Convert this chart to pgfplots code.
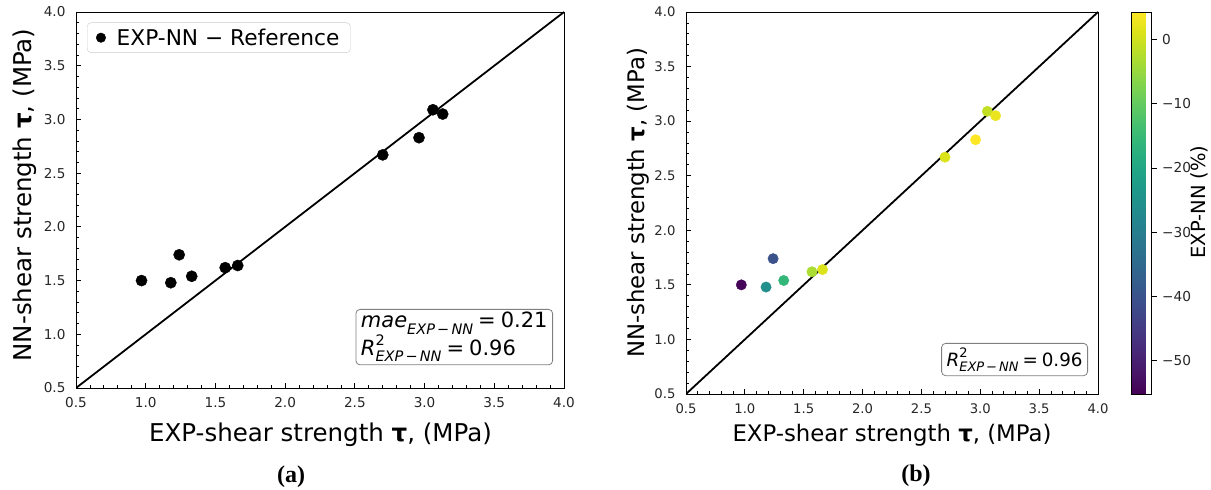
\documentclass[border=0pt]{standalone}
\usepackage{fontspec}
\setmainfont{DejaVu Sans}
\newfontfamily\capfont{Liberation Serif}
\usepackage{pgfplots}
\pgfplotsset{compat=1.18}

\newcommand{\fs}[1]{\fontsize{#1}{#1}\selectfont}
\newcommand{\subx}[2]{\raisebox{-0.3em}{\fs{#1}\itshape EXP\kern0.15em−\kern0.15em NN}}
\newcommand{\supsub}[2]{\makebox[0pt][l]{\raisebox{0.5em}{\fs{#1}2}}\subx{#1}{}}

\pgfplotsset{
  myaxis/.style={
    scale only axis,
    xmin=0.5, xmax=4, ymin=0.5, ymax=4,
    xtick={0.5,1,1.5,2,2.5,3,3.5,4},
    ytick={0.5,1,1.5,2,2.5,3,3.5,4},
    xticklabels={0.5,1.0,1.5,2.0,2.5,3.0,3.5,4.0},
    yticklabels={0.5,1.0,1.5,2.0,2.5,3.0,3.5,4.0},
    minor x tick num=4, minor y tick num=4,
    tick align=inside, xtick pos=left, ytick pos=left,
    major tick length=5pt, minor tick length=3pt,
    every tick/.style={black, line width=0.8pt},
    axis line style={line width=0.9pt},
    xticklabel style={yshift=-6pt},
    yticklabel style={xshift=-7pt},
  }
}

\pgfplotstableread{
x y c
0.97 1.50 -54.6
1.18 1.48 -25.4
1.24 1.74 -40.3
1.33 1.54 -15.8
1.57 1.62 -3.2
1.66 1.64 1.2
2.70 2.67 1.1
2.96 2.83 4.4
3.06 3.09 -1.0
3.13 3.05 2.6
}\datatable

\begin{document}
\begin{tikzpicture}[x=1pt,y=1pt]
\path[use as bounding box] (0,0) rectangle (1211,490);

% ---------- panel (a)
\begin{axis}[myaxis,
  at={(76pt,102pt)}, anchor=south west,
  width=488pt, height=376pt,
  ticklabel style={font=\fs{13.6}, text=black!85},
  legend style={at={(0,1)}, anchor=north west, xshift=11pt, yshift=-10.5pt,
    draw=black!20, rounded corners=4pt, font=\fs{21.7},
    inner xsep=9pt, inner ysep=4pt},
  legend cell align=left,
  legend image post style={scale=0.85},
]
\addplot[only marks, mark=*, mark size=5.6pt, black] table[x=x,y=y] {\datatable};
\addlegendentry{\hspace{9pt}EXP-NN − Reference}
\addplot[black, line width=1.8pt, forget plot] coordinates {(0.5,0.5) (4,4)};
\end{axis}

% ---------- panel (b)
\begin{axis}[myaxis,
  at={(686pt,96pt)}, anchor=south west,
  width=412pt, height=382pt,
  ticklabel style={font=\fs{13.2}, text=black!85},
  colormap/viridis,
  point meta min=-55.2, point meta max=4.3,
  colorbar,
  colorbar style={
    at={(parent axis.south east)}, anchor=south west, xshift=25pt,
    scale only axis, width=20pt, height=382pt,
    ytick={-50,-40,-30,-20,-10,0},
    yticklabels={−50,−40,−30,−20,−10,0},
    ytick pos=right, yticklabel pos=right,
    tick align=outside, major tick length=5pt,
    every tick/.style={black, line width=0.8pt},
    axis line style={line width=0.8pt},
    yticklabel style={font=\fs{13.7}, text=black!85, xshift=2pt},
  },
]
\addplot[scatter, only marks, mark=*, mark size=5.2pt,
  scatter src=explicit,
  scatter/use mapped color={draw=mapped color, fill=mapped color}]
  table[x=x,y=y,meta=c] {\datatable};
\addplot[black, line width=1.8pt] coordinates {(0.5,0.5) (4,4)};
\end{axis}

% ---------- labels
\node[anchor=base] at (320.5,48.5) {\fs{24.5}EXP-shear strength {\bfseries τ}, (MPa)};
\node[anchor=base, rotate=90] at (32,295) {\fs{24.5}NN-shear strength {\bfseries τ}, (MPa)};
\node[anchor=base] at (892,48) {\fs{22.8}EXP-shear strength {\bfseries τ}, (MPa)};
\node[anchor=base, rotate=90] at (644,287) {\fs{22.8}NN-shear strength {\bfseries τ}, (MPa)};
\node[anchor=base, rotate=90] at (1205,288) {\fs{19.5}EXP-NN (\%)};

% ---------- stat boxes
\node[anchor=north east, draw=black!50, rounded corners=4pt, fill=white,
  align=left, inner xsep=5pt, inner ysep=3pt, line width=0.8pt] at (553,181)
  {\fs{21}{\itshape mae}\subx{14.5}{}\kern5pt=\kern5pt0.21\\[-1pt]
   \fs{21}{\itshape R}\supsub{14.5}{}\kern5pt=\kern5pt0.96};
\node[anchor=north east, draw=black!50, rounded corners=4pt, fill=white,
  align=left, inner xsep=5pt, inner ysep=4pt, line width=0.8pt] at (1088,147)
  {\fs{18.3}{\itshape R}\supsub{13}{}\kern4pt=\kern4pt0.96};

% ---------- captions
\node at (291,13.5) {\capfont\bfseries\fs{24}(a)};
\node at (916,14) {\capfont\bfseries\fs{24}(b)};
\end{tikzpicture}
\end{document}
